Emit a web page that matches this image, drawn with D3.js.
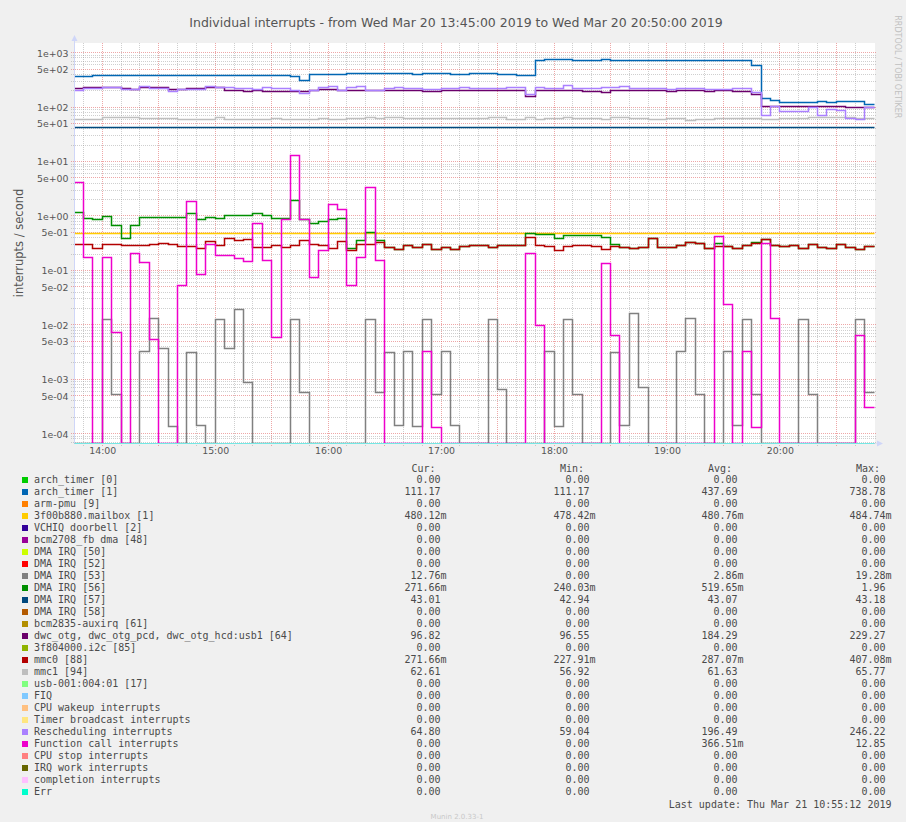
<!DOCTYPE html>
<html><head><meta charset="utf-8">
<script src="https://cdn.jsdelivr.net/npm/d3@7"></script>
<style>
html,body{margin:0;padding:0;background:#F0F0F0;}
svg{display:block;}
</style></head><body>
<svg id="chart" width="906" height="822"></svg>
<script>
// ---------------- DATA ----------------
const chartTitle = "Individual interrupts - from Wed Mar 20 13:45:00 2019 to Wed Mar 20 20:50:00 2019";
const yAxisTitle = "interrupts / second";
const startTime = "2019-03-20 13:45";
const endTime = "2019-03-20 20:50";
const stepMinutes = 5;
const xTickLabels = ["14:00","15:00","16:00","17:00","18:00","19:00","20:00"];
const yTickValues = [1000,500,100,50,10,5,1,0.5,0.1,0.05,0.01,0.005,0.001,0.0005,0.0001];
const yTickLabels = ["1e+03","5e+02","1e+02","5e+01","1e+01","5e+00","1e+00","5e-01","1e-01","5e-02","1e-02","5e-03","1e-03","5e-04","1e-04"];

const seriesNames = ["arch_timer [0]","arch_timer [1]","arm-pmu [9]","3f00b880.mailbox [1]","VCHIQ doorbell [2]","bcm2708_fb dma [48]","DMA IRQ [50]","DMA IRQ [52]","DMA IRQ [53]","DMA IRQ [56]","DMA IRQ [57]","DMA IRQ [58]","bcm2835-auxirq [61]","dwc_otg, dwc_otg_pcd, dwc_otg_hcd:usb1 [64]","3f804000.i2c [85]","mmc0 [88]","mmc1 [94]","usb-001:004:01 [17]","FIQ","CPU wakeup interrupts","Timer broadcast interrupts","Rescheduling interrupts","Function call interrupts","CPU stop interrupts","IRQ work interrupts","completion interrupts","Err"];
const seriesColors = ["#00CC00","#0066B3","#FF8000","#FFCC00","#330099","#990099","#CCFF00","#FF0000","#808080","#008F00","#00487D","#B35A00","#B38F00","#6B006B","#8FB300","#B30000","#BEBEBE","#80FF80","#80C9FF","#FFC080","#FFE680","#AA80FF","#EE00CC","#FF8080","#666600","#FFBFFF","#00FFCC"];
const statCur = ["0.00","111.17","0.00","480.12m","0.00","0.00","0.00","0.00","12.76m","271.66m","43.01","0.00","0.00","96.82","0.00","271.66m","62.61","0.00","0.00","0.00","0.00","64.80","0.00","0.00","0.00","0.00","0.00"];
const statMin = ["0.00","111.17","0.00","478.42m","0.00","0.00","0.00","0.00","0.00","240.03m","42.94","0.00","0.00","96.55","0.00","227.91m","56.92","0.00","0.00","0.00","0.00","59.04","0.00","0.00","0.00","0.00","0.00"];
const statAvg = ["0.00","437.69","0.00","480.76m","0.00","0.00","0.00","0.00","2.86m","519.65m","43.07","0.00","0.00","184.29","0.00","287.07m","61.63","0.00","0.00","0.00","0.00","196.49","366.51m","0.00","0.00","0.00","0.00"];
const statMax = ["0.00","738.78","0.00","484.74m","0.00","0.00","0.00","0.00","19.28m","1.96","43.18","0.00","0.00","229.27","0.00","407.08m","65.77","0.00","0.00","0.00","0.00","246.22","12.85","0.00","0.00","0.00","0.00"];
const lastUpdate = "Last update: Thu Mar 21 10:55:12 2019";
const watermark = "Munin 2.0.33-1";
const rrdWatermark = "RRDTOOL / TOBI OETIKER";

// 85 five-minute samples per series
const allZero = [0,0,0,0,0,0,0,0,0,0,0,0,0,0,0,0,0,0,0,0,0,0,0,0,0,0,0,0,0,0,0,0,0,0,0,0,0,0,0,0,0,0,0,0,0,0,0,0,0,0,0,0,0,0,0,0,0,0,0,0,0,0,0,0,0,0,0,0,0,0,0,0,0,0,0,0,0,0,0,0,0,0,0,0,0];
const archTimer1 = [362,362,389,389,389,389,389,389,389,389,
 389,389,389,389,389,389,389,389,389,389,
 389,389,389,362,302,393,393,393,393,411,
 411,411,411,411,411,411,401,411,411,411,
 393,393,411,411,411,401,401,389,373,708,
 738.78,738.78,738.78,708,708,708,738,708,708,708,
 708,708,708,708,708,708,708,708,708,708,
 708,708,594,147,133,123,123,123,123,128,
 122,128,125,125,111.17];
const mailbox = [0.48,0.48,0.48,0.48,0.48,0.48,0.48,0.48,0.48,0.48,0.48,0.48,0.48,0.48,0.48,0.48,0.48,0.48,0.48,0.48,0.48,0.48,0.48,0.48,0.48,0.48,0.48,0.48,0.48,0.48,0.48,0.48,0.48,0.48,0.48,0.48,0.48,0.48,0.48,0.48,0.48,0.48,0.48,0.48,0.48,0.48,0.48,0.48,0.48,0.48,0.48,0.48,0.48,0.48,0.48,0.48,0.48,0.48,0.48,0.48,0.48,0.48,0.48,0.48,0.48,0.48,0.48,0.48,0.48,0.48,0.48,0.48,0.48,0.48,0.48,0.48,0.48,0.48,0.48,0.48,0.48,0.48,0.48,0.48,0.48];
const dma53 = [0,0,0,0.0126,0.00053,0,0,0.00326,0.0132,0.00371,
 0.000133,0,0.00313,0.000143,0,0.0126,0.00371,0.01928,0.00088,0,
 0,0,0,0.0126,0.000575,0,0,0,0,0,
 0,0.0126,0.000575,0.00313,0.000143,0.00326,0.000133,0.0126,0.00053,0.00326,
 0.000139,0,0,0,0.0126,0.000635,0,0,0,0,
 0.00326,0.000133,0.0126,0.00053,0,0,0,0.00313,0.000143,0.0163,
 0.00071,0,0,0,0.00324,0.0132,0.00053,0,0,0.00326,
 0.000139,0.0126,0.00053,0,0,0,0,0.0126,0.00053,0,
 0,0,0,0.0126,0.000575];
const dma56 = [1.18,0.905,0.868,0.97,0.673,0.378,0.673,0.945,0.945,0.945,
 0.945,0.945,1.12,0.868,0.945,0.905,1.01,1.01,1.0,1.09,
 1.01,0.905,0.905,1.96,0.844,0.733,0.797,0.868,0.905,0.255,
 0.347,0.501,0.347,0.262,0.244,0.289,0.265,0.302,0.244,0.265,
 0.244,0.273,0.289,0.289,0.265,0.289,0.289,0.289,0.48,0.448,
 0.448,0.389,0.435,0.435,0.435,0.435,0.40,0.302,0.265,0.255,
 0.265,0.389,0.265,0.265,0.289,0.328,0.315,0.255,0.315,0.273,
 0.255,0.289,0.324,0.373,0.289,0.273,0.289,0.255,0.302,0.265,
 0.255,0.302,0.265,0.244,0.2717];
const dma57 = [43.07,43.07,43.07,43.07,43.07,43.07,43.07,43.07,43.07,43.07,43.07,43.07,43.07,43.07,43.07,43.07,43.07,43.07,43.07,43.07,43.07,43.07,43.07,43.07,43.07,43.07,43.07,43.07,43.07,43.07,43.07,43.07,43.07,43.07,43.07,43.07,43.07,43.07,43.07,43.07,43.07,43.07,43.07,43.07,43.07,43.07,43.07,43.07,43.07,43.07,43.07,43.07,43.07,43.07,43.07,43.07,43.07,43.07,43.07,43.07,43.07,43.07,43.07,43.07,43.07,43.07,43.07,43.07,43.07,43.07,43.07,43.07,43.07,43.07,43.07,43.07,43.07,43.07,43.07,43.07,43.07,43.07,43.07,43.07,43.01];
const dwcOtg = [221,228,228,229,229,221,212,229.27,228,228,
 212,212,221,221,229,229,203.6,203.6,195,203.6,
 195,195,192,192,192,204,212,212,206,206,
 206,206,198,206,206,206,198,190,190,198,
 198,206,206,198,198,198,198,198,160,198,
 198,198,198,198,195,195,187,198,198,198,
 198,198,198,190,198,198,198,190,198,198,
 192,192,172,100.6,100.6,100.6,100.6,100.6,100.6,100.6,
 100.6,100.6,99,96.55,96.82];
const mmc0 = [0.302,0.302,0.255,0.302,0.302,0.281,0.281,0.289,0.302,0.315,
 0.302,0.273,0.273,0.255,0.338,0.281,0.383,0.347,0.362,0.265,
 0.265,0.289,0.265,0.289,0.347,0.302,0.281,0.255,0.333,0.2279,
 0.302,0.302,0.328,0.262,0.244,0.289,0.265,0.302,0.244,0.265,
 0.244,0.273,0.289,0.289,0.265,0.289,0.289,0.289,0.4071,0.289,
 0.273,0.237,0.273,0.289,0.289,0.273,0.244,0.273,0.265,0.255,
 0.265,0.389,0.265,0.265,0.289,0.328,0.315,0.255,0.273,0.273,
 0.255,0.289,0.315,0.362,0.289,0.273,0.289,0.255,0.302,0.265,
 0.255,0.302,0.265,0.244,0.2717];
const mmc1 = [59.7,59.7,59.7,65,65.77,65.77,65.77,62.3,62.3,62.3,
 62.3,59.7,59.7,59.7,59.7,65,59.7,59.7,59.7,59.7,
 59.7,62.3,58,58,59.7,59.7,62.3,59.7,59.7,62.3,
 62.3,65,62.3,65,65,62.3,62.3,62.3,62.3,62.3,
 62.3,62.3,62.3,62.3,65,65,59.7,59.7,64,59.7,
 62.3,62.3,65,62.3,62.3,62.3,59.7,65,65,62.3,
 62.3,59.7,59.7,61.4,61.4,56.92,58,59.7,62.3,62.3,
 62.3,62.3,62.3,59.7,59.7,62.3,62.3,62.3,65,65,
 65,65,65,62.61,62.61];
const rescheduling = [204,221,221,231,231,212,212,238,221,221,
 195,212,212,212,238,228,228,221,221,209,
 231,221,221,206,177,206,228,238,206,228,
 238,206,198,221,231,221,221,212,212,221,
 221,228,221,221,221,221,231,231,174,228,
 218,218,246.22,221,221,221,231,231,244,221,
 221,221,221,212,221,221,221,212,212,212,
 221,221,187,69.7,102,82.6,82.6,82.6,96.4,68.7,
 88.6,86.1,62.3,59.04,97.7];
const functionCall = [4.15,0.174,0,0.174,0.0073,0,0.206,0.141,0.00542,0,
 0,0.0532,1.83,0.0848,0.302,0.189,0.189,0.167,0.147,0.733,
 0.153,0.0059,0.868,12.85,0.844,0.0746,0.237,1.64,1.33,0.0532,
 0.174,3.36,0.155,0,0,0,0,0.00324,0.000132,0,
 0,0,0,0,0,0,0,0,0.206,0.00952,
 0,0,0,0,0,0,0.135,0.00624,0,0,
 0,0,0,0,0,0,0,0,0.423,0.0232,
 0,0.00324,0.000132,0.315,0.0132,0,0,0,0,0,
 0,0,0,0.00641,0.000297];

const seriesValues = [allZero, archTimer1, allZero, mailbox, allZero, allZero, allZero, allZero, dma53, dma56, dma57, allZero, allZero, dwcOtg, allZero, mmc0, mmc1, allZero, allZero, allZero, allZero, rescheduling, functionCall, allZero, allZero, allZero, allZero];

// ---------------- DRAWING ----------------
const svg = d3.select("#chart");
const W = 906, H = 822;
const P = {left: 74, right: 874, top: 43, bottom: 443};
const parse = d3.timeParse("%Y-%m-%d %H:%M");
const t0 = parse(startTime), t1 = parse(endTime);
const x = d3.scaleTime().domain([t0, t1]).range([P.left, P.right]);
const y = d3.scaleLog().domain([Math.pow(10, -4.171), Math.pow(10, 3.178)]).range([P.bottom, P.top]);
const nSteps = allZero.length;
const times = d3.range(nSteps + 1).map(i => new Date(t0.getTime() + i * stepMinutes * 60000));

svg.append("rect").attr("width", W).attr("height", H).attr("fill", "#F0F0F0");
svg.append("rect").attr("x", P.left).attr("y", P.top).attr("width", P.right - P.left + 1).attr("height", P.bottom - P.top).attr("fill", "#FFFFFF");
svg.append("defs").append("clipPath").attr("id", "plotclip").append("rect")
  .attr("x", P.left - 2).attr("y", P.top - 10).attr("width", P.right - P.left + 6).attr("height", P.bottom - P.top + 11);

const minorCol = "rgba(140,140,140,0.42)";
const majorCol = "rgba(222,79,79,0.5)";
const grid = svg.append("g").attr("shape-rendering", "crispEdges");
const px = v => Math.floor(v) + 0.5;

// vertical grid: every 10 minutes, major every 30 minutes
const vTicks = d3.timeMinute.every(10).range(new Date(t0.getTime() + 1), t1);
vTicks.forEach(t => {
  const major = t.getMinutes() % 30 === 0;
  grid.append("line").attr("x1", px(x(t))).attr("x2", px(x(t)))
    .attr("y1", P.top).attr("y2", P.bottom + 3)
    .attr("stroke", major ? majorCol : minorCol).attr("stroke-dasharray", "1,1");
});
// horizontal grid: log decades
const [ylo, yhi] = y.domain();
for (let e = -5; e <= 3; e++) {
  for (let m = 1; m <= 9; m++) {
    const v = m * Math.pow(10, e);
    if (v < ylo || v > yhi) continue;
    const major = (m === 1 || m === 5);
    grid.append("line").attr("x1", P.left - 3).attr("x2", P.right + 3)
      .attr("y1", px(y(v))).attr("y2", px(y(v)))
      .attr("stroke", major ? majorCol : minorCol).attr("stroke-dasharray", "1,1");
  }
}

// series lines (snapped to pixel centres like rrdtool)
const yv = v => v > 0 ? px(y(v)) : P.bottom + 0.5;
const line = d3.line().x(d => px(x(d.t))).y(d => yv(d.v)).curve(d3.curveStepAfter);
const gl = svg.append("g").attr("clip-path", "url(#plotclip)");
seriesValues.forEach((vals, k) => {
  const pts = vals.map((v, i) => ({t: times[i], v}));
  pts.push({t: times[nSteps], v: vals[nSteps - 1]});
  const flat = vals === allZero;
  gl.append("path").attr("d", line(pts)).attr("fill", "none")
    .attr("stroke", seriesColors[k]).attr("stroke-width", flat ? 1 : 1.5);
});

// axes (light lavender) with arrows
const axisCol = "#CFD6F8";
svg.append("line").attr("x1", P.left + 0.5).attr("x2", P.left + 0.5).attr("y1", P.bottom).attr("y2", P.top - 2).attr("stroke", axisCol);
svg.append("path").attr("d", `M${P.left + 0.5},${P.top - 8} L${P.left - 2.5},${P.top - 2} L${P.left + 3.5},${P.top - 2} Z`).attr("fill", axisCol);
svg.append("line").attr("x1", P.left).attr("x2", P.right + 4).attr("y1", P.bottom + 0.5).attr("y2", P.bottom + 0.5).attr("stroke", axisCol).attr("stroke-opacity", 0.55);
svg.append("path").attr("d", `M${P.right + 9},${P.bottom + 0.5} L${P.right + 3},${P.bottom - 2.5} L${P.right + 3},${P.bottom + 3.5} Z`).attr("fill", axisCol);

// axis labels using d3 axes
const textCol = "#555555";
const yAxis = d3.axisLeft(y).tickValues(yTickValues).tickFormat((d, i) => yTickLabels[i]).tickSize(0).tickPadding(5.5);
const gy = svg.append("g").attr("transform", `translate(${P.left},0)`).call(yAxis);
gy.select(".domain").remove();
gy.selectAll("text").attr("font-family", "DejaVu Sans").attr("font-size", "9.4px").attr("fill", textCol).attr("dy", "0.36em");

const xTickDates = xTickLabels.map(s => parse("2019-03-20 " + s));
const xAxis = d3.axisBottom(x).tickValues(xTickDates).tickFormat((d, i) => xTickLabels[i]).tickSize(0).tickPadding(4);
const gx = svg.append("g").attr("transform", `translate(0,${P.bottom})`).call(xAxis);
gx.select(".domain").remove();
gx.selectAll("text").attr("font-family", "DejaVu Sans").attr("font-size", "9.4px").attr("fill", textCol).attr("dy", "0.71em");

// titles
svg.append("text").attr("x", 456).attr("y", 27.3).attr("text-anchor", "middle")
  .attr("font-family", "DejaVu Sans").attr("font-size", "12.5px").attr("fill", textCol).text(chartTitle);
svg.append("text").attr("transform", "translate(22.5,243) rotate(-90)").attr("text-anchor", "middle")
  .attr("font-family", "DejaVu Sans").attr("font-size", "11.5px").attr("fill", textCol).text(yAxisTitle);
svg.append("text").attr("transform", "translate(894.6,66.8) rotate(90)").attr("text-anchor", "middle")
  .attr("font-family", "DejaVu Sans").attr("font-size", "8px").attr("fill", "#C0C0C0").text(rrdWatermark);

// legend
const mono = "DejaVu Sans Mono";
const lg = svg.append("g").attr("font-family", mono).attr("font-size", "10px").attr("fill", "#4A4A4A");
const colEdges = [440.5, 589.5, 737.5, 885.5];
const headers = ["Cur:", "Min:", "Avg:", "Max:"];
const headerX = [411.5, 560, 708, 856];
headers.forEach((h, i) => lg.append("text").attr("x", headerX[i]).attr("y", 471.5).text(h));
const stats = [statCur, statMin, statAvg, statMax];
seriesNames.forEach((name, k) => {
  const cy = 480 + 12 * k;
  lg.append("rect").attr("x", 22).attr("y", cy - 3).attr("width", 6).attr("height", 6).attr("fill", seriesColors[k]);
  lg.append("text").attr("x", 34).attr("y", cy + 3.3).attr("xml:space", "preserve").text(name);
  stats.forEach((col, c) => {
    const s = col[k];
    const hasUnit = s.endsWith("m");
    const num = hasUnit ? s.slice(0, -1) : s;
    lg.append("text").attr("x", colEdges[c]).attr("y", cy + 3.3).attr("text-anchor", "end").text(num);
    if (hasUnit) lg.append("text").attr("x", colEdges[c]).attr("y", cy + 3.3).text("m");
  });
});
lg.append("text").attr("x", 891.5).attr("y", 807.6).attr("text-anchor", "end").attr("xml:space", "preserve").text(lastUpdate);
svg.append("text").attr("x", 457).attr("y", 818.5).attr("text-anchor", "middle")
  .attr("font-family", "DejaVu Sans").attr("font-size", "7px").attr("fill", "#C8C8C8").text(watermark);
</script>
</body></html>
